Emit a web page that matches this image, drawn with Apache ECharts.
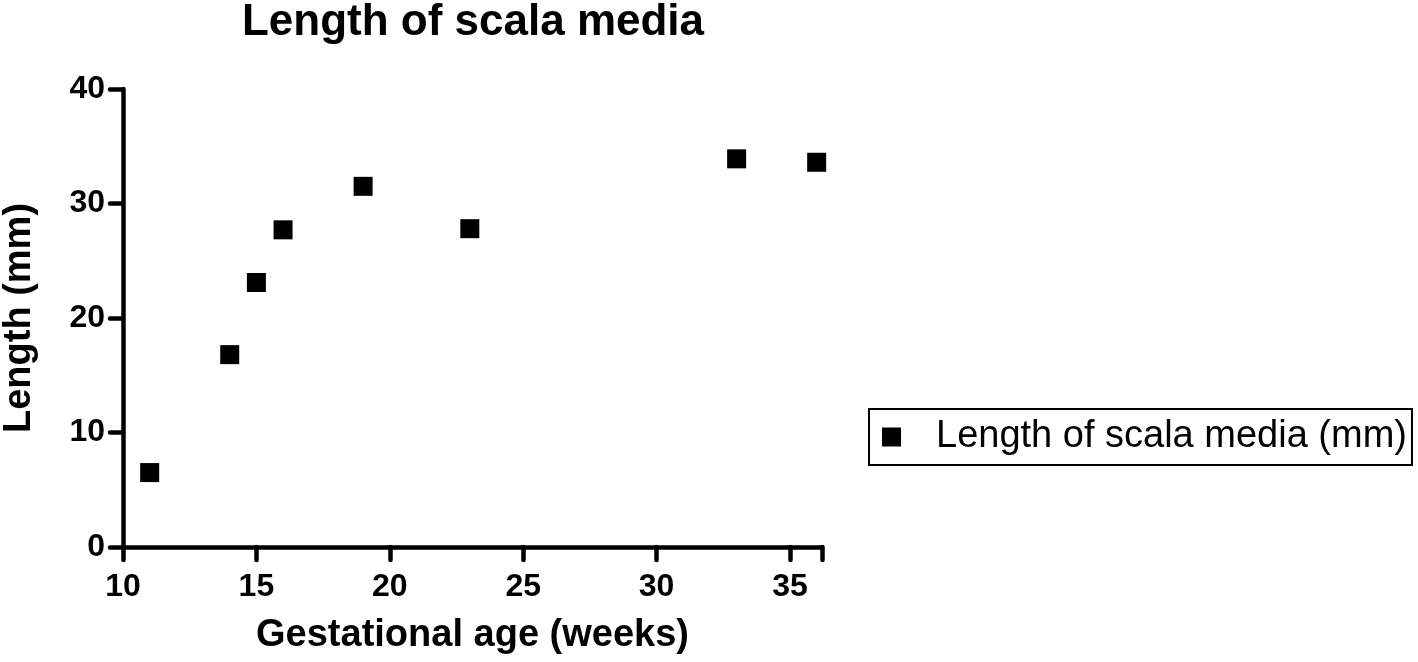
<!DOCTYPE html>
<html><head><meta charset="utf-8">
<script src="https://cdn.jsdelivr.net/npm/echarts@6/dist/echarts.min.js"></script>
<style>html,body{margin:0;padding:0;background:#fff}#c{width:1418px;height:662px}</style>
</head><body><div id="c"></div>
<script>
const weeks = [11, 14, 15, 16, 19, 23, 33, 36];
const lengthMM = [6.5, 16.8, 23.1, 27.7, 31.5, 27.8, 33.9, 33.6];
const seriesName = 'Length of scala media (mm)';
const titleText = 'Length of scala media';
const xName = 'Gestational age (weeks)';
const yName = 'Length (mm)';

const font = 'Liberation Sans, Arial, Helvetica, sans-serif';
const chart = echarts.init(document.getElementById('c'));
chart.setOption({
  animation: false,
  backgroundColor: '#fff',
  title: {text: titleText, left: 468, top: -4, textAlign: 'center',
    textStyle: {fontFamily: font, fontWeight: 'bold', fontSize: 44, color: '#000'}},
  grid: {left: 122, right: 596, top: 89, bottom: 115},
  legend: {
    data: [{name: seriesName, icon: 'rect'}],
    left: 869, top: 409, orient: 'vertical',
    borderColor: '#000', borderWidth: 2, borderRadius: 0,
    padding: [9, 5, 9, 13], itemWidth: 19, itemHeight: 19,
    textStyle: {fontFamily: font, fontSize: 38, color: '#000', padding: [0, 0, 0, 30]}
  },
  xAxis: {
    type: 'value', min: 10, max: 36.2, interval: 5,
    name: xName, nameLocation: 'middle', nameGap: 70,
    nameTextStyle: {fontFamily: font, fontWeight: 'bold', fontSize: 38, color: '#000'},
    axisLine: {show: true, lineStyle: {color: '#000', width: 4.5, cap: 'round'}},
    axisTick: {show: true, length: 13, lineStyle: {color: '#000', width: 4.5, cap: 'round'}},
    axisLabel: {margin: 24, fontFamily: font, fontWeight: 'bold', fontSize: 32, color: '#000',
      formatter: v => (v % 5 === 0 ? v : '')},
    splitLine: {show: false}
  },
  yAxis: {
    type: 'value', min: 0, max: 40, interval: 10,
    name: yName, nameLocation: 'middle', nameGap: 84, nameRotate: 90,
    nameTextStyle: {fontFamily: font, fontWeight: 'bold', fontSize: 38, color: '#000'},
    axisLine: {show: true, lineStyle: {color: '#000', width: 4.5, cap: 'round'}},
    axisTick: {show: true, length: 13, lineStyle: {color: '#000', width: 4.5, cap: 'round'}},
    axisLabel: {margin: 18, fontFamily: font, fontWeight: 'bold', fontSize: 32, color: '#000'},
    splitLine: {show: false}
  },
  series: [{
    name: seriesName, type: 'scatter', symbol: 'rect', symbolSize: 19,
    itemStyle: {color: '#000', opacity: 1},
    data: weeks.map((w, i) => [w, lengthMM[i]])
  }]
});
</script></body></html>
